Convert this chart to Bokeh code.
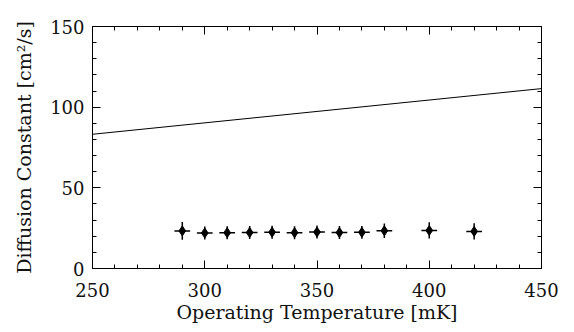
from bokeh.plotting import figure
from bokeh.models import LinearAxis, Range1d, FixedTicker, ColumnDataSource
from bokeh.embed import file_html
from bokeh.resources import INLINE

# Data
temps = [290, 300, 310, 320, 330, 340, 350, 360, 370, 380, 400, 420]
diff = [23.3, 22.0, 22.2, 22.3, 22.5, 22.2, 22.6, 22.3, 22.4, 23.4, 23.6, 23.0]
diff_err = [5.5, 4.0, 4.0, 4.0, 4.0, 4.0, 4.0, 4.0, 4.0, 4.5, 5.0, 5.0]
temp_err = [3.5, 3.5, 3.5, 3.5, 3.5, 3.5, 3.5, 3.5, 3.5, 3.5, 3.5, 3.5]
model_t = [250, 450]
model_d = [83.2, 111.5]

x_ticks = [250, 300, 350, 400, 450]
y_ticks = [0, 50, 100, 150]
x_minor = list(range(250, 451, 10))
y_minor = list(range(0, 151, 10))

FONT = "DejaVu Serif"

p = figure(width=574, height=332, output_backend="svg", toolbar_location=None,
           x_range=Range1d(250, 450), y_range=Range1d(0, 150),
           min_border_left=92, min_border_right=33, min_border_top=26, min_border_bottom=64)
p.background_fill_color = "white"
p.border_fill_color = "white"
p.grid.visible = False
p.outline_line_color = "black"
p.outline_line_width = 1

src = ColumnDataSource(dict(t=temps, d=diff,
                            dlo=[d - e for d, e in zip(diff, diff_err)],
                            dhi=[d + e for d, e in zip(diff, diff_err)],
                            tlo=[t - e for t, e in zip(temps, temp_err)],
                            thi=[t + e for t, e in zip(temps, temp_err)]))

p.line(model_t, model_d, line_color="black", line_width=1)
p.segment(x0="t", y0="dlo", x1="t", y1="dhi", source=src, line_color="black", line_width=1.5)
p.segment(x0="tlo", y0="d", x1="thi", y1="d", source=src, line_color="black", line_width=1.5)
p.scatter(x="t", y="d", source=src, marker="diamond", size=10, fill_color="black", line_color="black")

def style(ax, labels=True):
    ax.axis_line_color = "black"
    ax.major_tick_in = 8
    ax.major_tick_out = 0
    ax.minor_tick_in = 4
    ax.minor_tick_out = 0
    ax.major_tick_line_color = "black"
    ax.minor_tick_line_color = "black"
    ax.major_label_text_font = FONT
    ax.major_label_text_font_size = "18px"
    ax.major_label_text_color = "#111111"
    ax.axis_label_text_font = FONT
    ax.axis_label_text_font_size = "19px"
    ax.axis_label_text_font_style = "normal"
    ax.axis_label_text_color = "#111111"
    if not labels:
        ax.major_label_text_font_size = "0px"
        ax.major_label_text_color = None

p.xaxis.ticker = FixedTicker(ticks=x_ticks, minor_ticks=x_minor)
p.yaxis.ticker = FixedTicker(ticks=y_ticks, minor_ticks=y_minor)
p.xaxis.axis_label = "Operating Temperature [mK]"
p.yaxis.axis_label = "Diffusion Constant [cm²/s]"
style(p.xaxis[0])
style(p.yaxis[0])
p.xaxis.major_label_standoff = 14
p.yaxis.major_label_standoff = 8
p.xaxis.axis_label_standoff = 1
p.yaxis.axis_label_standoff = 12

top = LinearAxis(ticker=FixedTicker(ticks=x_ticks, minor_ticks=x_minor))
style(top, labels=False)
p.add_layout(top, "above")
right = LinearAxis(ticker=FixedTicker(ticks=y_ticks, minor_ticks=y_minor))
style(right, labels=False)
p.add_layout(right, "right")

open("out.html", "w").write(file_html(p, INLINE))
